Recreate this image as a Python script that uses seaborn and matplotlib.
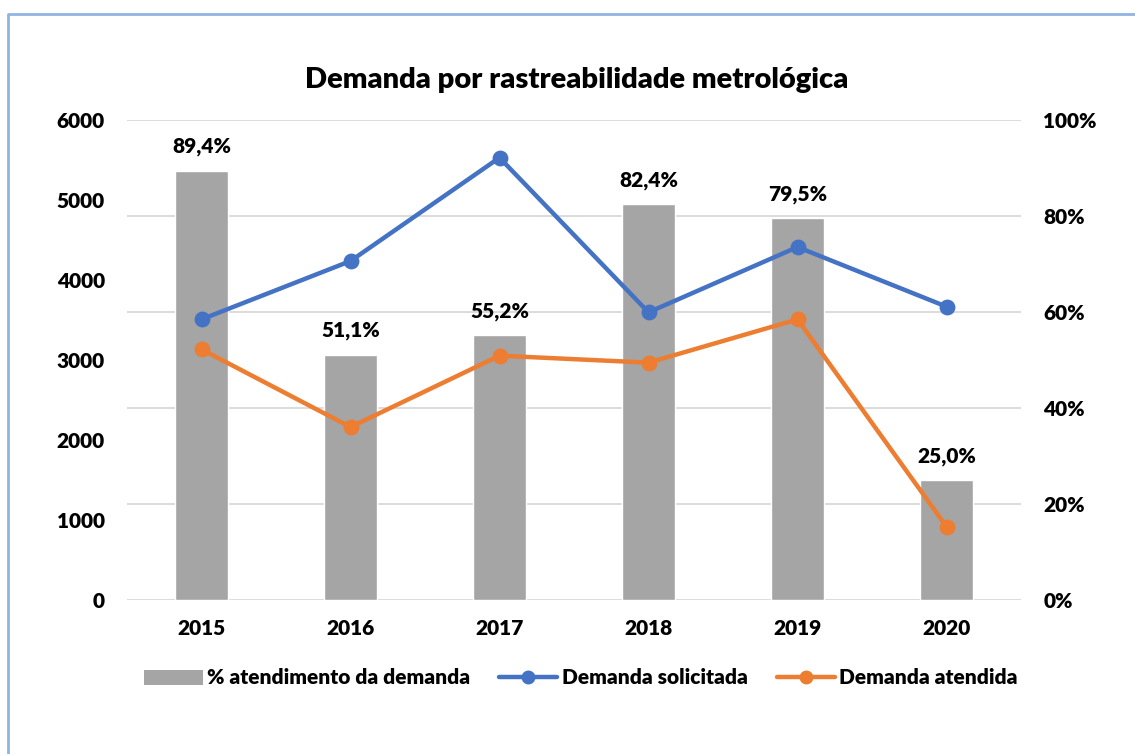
import matplotlib
matplotlib.use("Agg")
import matplotlib.pyplot as plt
import seaborn as sns
from matplotlib.patches import Patch
from matplotlib.lines import Line2D
from matplotlib.ticker import FuncFormatter

# Data
anos = ["2015", "2016", "2017", "2018", "2019", "2020"]
pct_atendimento = [0.894, 0.511, 0.552, 0.824, 0.795, 0.250]
demanda_solicitada = [3508, 4237, 5529, 3596, 4412, 3667]
demanda_atendida = [3133, 2162, 3054, 2967, 3508, 917]

cor_barra = "#A5A5A5"
cor_azul = "#4472C4"
cor_laranja = "#ED7D31"
cor_grade = "#D9D9D9"
peso = "heavy"

sns.set_theme(style="white")
plt.rcParams["font.family"] = ["Lato", "DejaVu Sans"]
plt.rcParams["text.color"] = "black"
plt.rcParams["xtick.color"] = "black"
plt.rcParams["ytick.color"] = "black"

fig = plt.figure(figsize=(11.35, 7.54), dpi=100)
# axes box in pixels: x 127..1021, y 120..600 (from top)
ax = fig.add_axes([127 / 1135, 1 - 600 / 754, 894 / 1135, 480 / 754])

# bars on the percent axis (drawn first, behind the lines)
sns.barplot(x=anos, y=pct_atendimento, ax=ax, color=cor_barra, width=0.36,
            saturation=1)
ax.set_ylim(0, 1)
ax.set_xlim(-0.5, 5.5)
ax.set_yticks([0, 0.2, 0.4, 0.6, 0.8, 1.0])
ax.yaxis.set_major_formatter(FuncFormatter(lambda v, p: f"{v * 100:.0f}%"))
ax.grid(axis="y", color=cor_grade, linewidth=1.3)
ax.set_axisbelow(True)
ax.set_xlabel("")
ax.set_ylabel("")

for i, v in enumerate(pct_atendimento):
    ax.text(i, v + 0.03, f"{v * 100:.1f}%".replace(".", ","), ha="center",
            va="bottom", fontsize=15, fontweight=peso, color="black")

# lines on the count axis
ax2 = ax.twinx()
sns.pointplot(x=anos, y=demanda_solicitada, ax=ax2, color=cor_azul,
              markers="o", markersize=9, linewidth=3.2)
sns.pointplot(x=anos, y=demanda_atendida, ax=ax2, color=cor_laranja,
              markers="o", markersize=9, linewidth=3.2)
ax2.set_ylim(0, 6000)
ax2.set_xlim(-0.5, 5.5)
ax2.set_yticks(range(0, 6001, 1000))
ax2.set_ylabel("")

# percent ticks on the right, counts on the left
ax.yaxis.tick_right()
ax.yaxis.set_label_position("right")
ax2.yaxis.tick_left()
ax2.yaxis.set_label_position("left")

for a in (ax, ax2):
    for s in a.spines.values():
        s.set_visible(False)
    a.tick_params(length=0, labelsize=15, labelcolor="black")
ax.tick_params(axis="y", pad=16)
ax2.tick_params(axis="y", pad=16)
ax.tick_params(axis="x", pad=14)
for lbl in ax.get_xticklabels() + ax.get_yticklabels() + ax2.get_yticklabels():
    lbl.set_fontweight(peso)

fig.text(577 / 1135, 1 - 80 / 754, "Demanda por rastreabilidade metrológica",
         ha="center", va="center", fontsize=21, fontweight=peso, color="black")

handles = [
    Patch(facecolor=cor_barra, edgecolor="none"),
    Line2D([], [], color=cor_azul, lw=3.2, marker="o", markersize=9),
    Line2D([], [], color=cor_laranja, lw=3.2, marker="o", markersize=9),
]
labels = ["% atendimento da demanda", "Demanda solicitada", "Demanda atendida"]
fig.legend(handles, labels, loc="center", bbox_to_anchor=(581 / 1135, 1 - 678 / 754),
           ncol=3, frameon=False, prop={"size": 15, "weight": peso},
           handlelength=2.8, handletextpad=0.2, columnspacing=1.4,
           labelcolor="black")

# light blue frame (top and left edges visible)
frame = Line2D([8 / 1135, 8 / 1135, 1.0], [0.0, 1 - 14 / 754, 1 - 14 / 754],
               transform=fig.transFigure, color="#8FB4E3", lw=2)
fig.add_artist(frame)

fig.savefig("out.png", dpi=100, facecolor="white")
